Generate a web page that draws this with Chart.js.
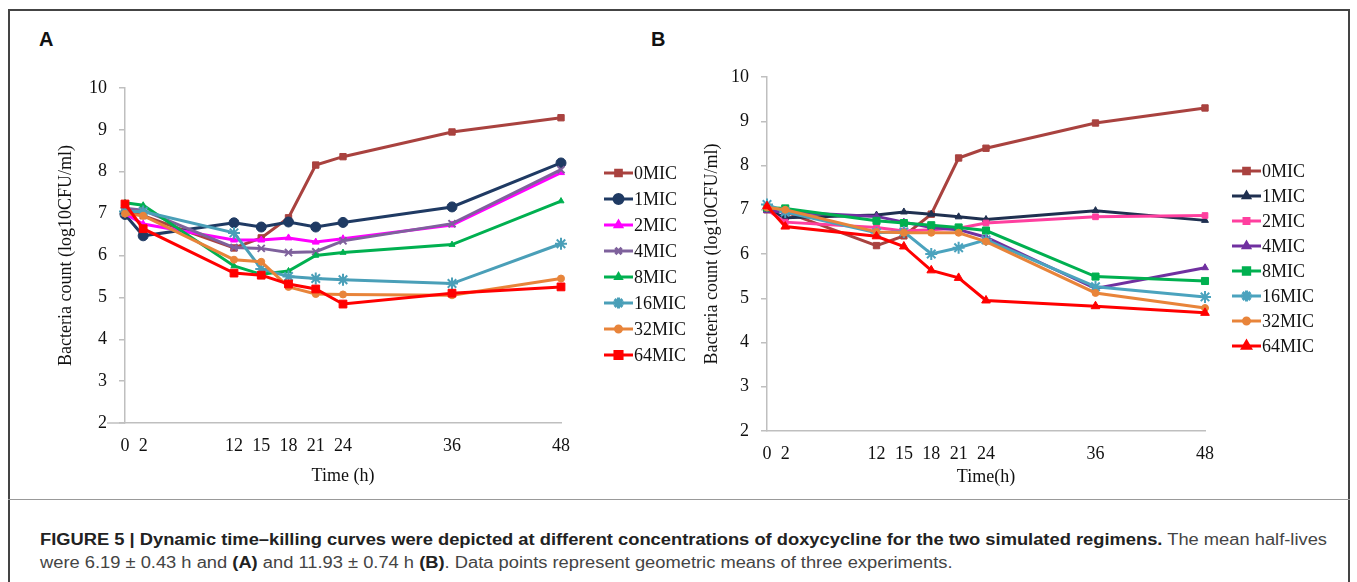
<!DOCTYPE html>
<html>
<head>
<meta charset="utf-8">
<script src="https://cdn.jsdelivr.net/npm/chart.js@4/dist/chart.umd.min.js"></script>
<style>
  html, body { margin: 0; padding: 0; background: #fff; }
  body { width: 1357px; height: 582px; position: relative; overflow: hidden; }
  .line { position: absolute; background: #444; }
  .panel-label { position: absolute; font-family: "Liberation Sans", Arial, sans-serif; font-weight: bold; font-size: 20px; color: #111; }
  #caption { position: absolute; left: 40px; top: 528px; font-family: "Liberation Sans Narrow", "Arial Narrow", "Liberation Sans", Arial, sans-serif; font-size: 16px; line-height: 23px; color: #444; white-space: nowrap; transform-origin: 0 0; }
  #caption b { color: #222; }
  canvas { position: absolute; }
</style>
</head>
<body>
<div class="line" style="left:8px; top:9px; width:1342px; height:1.5px;"></div>
<div class="line" style="left:8px; top:9px; width:1.5px; height:573px;"></div>
<div class="line" style="left:1348px; top:9px; width:1.5px; height:573px;"></div>
<div class="line" style="left:8px; top:499px; width:1342px; height:1px; background:#999;"></div>
<div class="panel-label" style="left:39px; top:28px;">A</div>
<div class="panel-label" style="left:651px; top:28px;">B</div>
<canvas id="chartA" width="700" height="500" style="left:0px; top:0px;"></canvas>
<canvas id="chartB" width="717" height="500" style="left:640px; top:0px;"></canvas>
<div id="caption"><span id="cap1"><b>FIGURE 5 | Dynamic time–killing curves were depicted at different concentrations of doxycycline for the two simulated regimens.</b> The mean half-lives</span><br><span>were 6.19 ± 0.43 h and <b>(A)</b> and 11.93 ± 0.74 h <b>(B)</b>. Data points represent geometric means of three experiments.</span></div>
<script>
// ---------- DATA ----------
const timePoints = [0, 2, 12, 15, 18, 21, 24, 36, 48];
const xTickLabels = [0, 2, 12, 15, 18, 21, 24, 36, 48];
const seriesNames = ["0MIC", "1MIC", "2MIC", "4MIC", "8MIC", "16MIC", "32MIC", "64MIC"];

// Panel A
const a0MIC  = [7.05, 6.95, 6.18, 6.42, 6.90, 8.16, 8.36, 8.95, 9.29];
const a1MIC  = [6.98, 6.47, 6.78, 6.68, 6.80, 6.68, 6.79, 7.16, 8.21];
const a2MIC  = [7.00, 6.75, 6.37, 6.37, 6.42, 6.32, 6.40, 6.73, 7.98];
const a4MIC  = [7.13, 7.08, 6.19, 6.17, 6.07, 6.09, 6.35, 6.76, 8.05];
const a8MIC  = [7.26, 7.20, 5.75, 5.55, 5.63, 6.00, 6.07, 6.26, 7.30];
const a16MIC = [7.05, 7.05, 6.54, 5.68, 5.50, 5.45, 5.42, 5.33, 6.28];
const a32MIC = [7.00, 6.95, 5.90, 5.85, 5.25, 5.08, 5.07, 5.05, 5.45];
const a64MIC = [7.23, 6.64, 5.58, 5.53, 5.32, 5.20, 4.84, 5.10, 5.25];

// Panel B
const b0MIC  = [7.00, 6.95, 6.19, 6.41, 6.90, 8.17, 8.39, 8.96, 9.30];
const b1MIC  = [7.00, 6.82, 6.88, 6.95, 6.90, 6.84, 6.78, 6.98, 6.76];
const b2MIC  = [7.00, 6.72, 6.60, 6.52, 6.55, 6.58, 6.70, 6.84, 6.87];
const b4MIC  = [6.98, 6.95, 6.85, 6.72, 6.60, 6.55, 6.38, 5.22, 5.69];
const b8MIC  = [7.05, 7.03, 6.75, 6.70, 6.65, 6.60, 6.53, 5.49, 5.39];
const b16MIC = [7.12, 6.95, 6.48, 6.50, 6.00, 6.14, 6.32, 5.26, 5.03];
const b32MIC = [7.05, 7.00, 6.50, 6.48, 6.48, 6.48, 6.28, 5.12, 4.78];
const b64MIC = [7.08, 6.62, 6.40, 6.17, 5.63, 5.46, 4.95, 4.82, 4.67];

const yTickValues = [2, 3, 4, 5, 6, 7, 8, 9, 10];
const yTitle = "Bacteria count (log10CFU/ml)";
const xTitleA = "Time (h)";
const xTitleB = "Time(h)";

// ---------- STYLES ----------
const stylesA = [
  {color: "#A9423F", pointStyle: "rect", radius: 4.5},
  {color: "#1F3A63", pointStyle: "circle", radius: 5},
  {color: "#FF00FF", pointStyle: "triangle", radius: 4},
  {color: "#7E619C", pointStyle: "crossRot", radius: 5},
  {color: "#00B050", pointStyle: "triangle", radius: 3.5},
  {color: "#4A9FB8", pointStyle: "star", radius: 6},
  {color: "#E8843A", pointStyle: "circle", radius: 3.5},
  {color: "#FF0000", pointStyle: "rect", radius: 5.5}
];
const stylesB = [
  {color: "#A9423F", pointStyle: "rect", radius: 4.5},
  {color: "#1F3050", pointStyle: "triangle", radius: 4},
  {color: "#FF3F9F", pointStyle: "rect", radius: 4},
  {color: "#7030A0", pointStyle: "triangle", radius: 4},
  {color: "#00B050", pointStyle: "rect", radius: 5},
  {color: "#4BA3BE", pointStyle: "star", radius: 6},
  {color: "#E8843A", pointStyle: "circle", radius: 3.5},
  {color: "#FF0000", pointStyle: "triangle", radius: 5}
];

function makeDatasets(valuesList, styles) {
  return valuesList.map((vals, i) => ({
    label: seriesNames[i],
    data: timePoints.map((t, j) => ({x: t, y: vals[j]})),
    borderColor: styles[i].color,
    backgroundColor: styles[i].color,
    pointBackgroundColor: styles[i].color,
    pointBorderColor: styles[i].color,
    pointStyle: styles[i].pointStyle,
    pointRadius: styles[i].radius,
    pointBorderWidth: styles[i].pointStyle === "star" || styles[i].pointStyle === "crossRot" ? 2 : 1,
    borderWidth: 3,
    tension: 0,
    clip: false,
    order: valuesList.length - i
  }));
}

function legendPlugin(cfg) {
  return {
    id: "customLegend",
    beforeDatasetsDraw(chart) {
      if (!cfg.axisExtend) return;
      const ctx = chart.ctx, a = chart.chartArea;
      ctx.save();
      ctx.strokeStyle = "#BFBFBF";
      ctx.lineWidth = 1.5;
      ctx.beginPath();
      ctx.moveTo(a.left - cfg.axisExtend, a.bottom);
      ctx.lineTo(a.left, a.bottom);
      ctx.stroke();
      ctx.restore();
    },
    afterDraw(chart) {
      const ctx = chart.ctx;
      ctx.save();
      chart.data.datasets.forEach((ds, i) => {
        const y = cfg.top + i * cfg.step;
        ctx.strokeStyle = ds.borderColor;
        ctx.fillStyle = ds.borderColor;
        ctx.lineWidth = 3;
        ctx.beginPath();
        ctx.moveTo(cfg.x0, y);
        ctx.lineTo(cfg.x1, y);
        ctx.stroke();
        Chart.helpers.drawPoint(ctx, {
          pointStyle: ds.pointStyle,
          radius: Math.max(ds.pointRadius - 0.5, 3),
          borderWidth: ds.pointBorderWidth,
          rotation: 0
        }, (cfg.x0 + cfg.x1) / 2, y);
        ctx.fillStyle = "#111";
        ctx.font = "18px 'Liberation Serif', 'Times New Roman', serif";
        ctx.textBaseline = "middle";
        ctx.textAlign = "left";
        ctx.fillText(ds.label, cfg.x1 + 1, y + 1);
      });
      ctx.restore();
    }
  };
}

function makeChart(id, datasets, opt) {
  const serif = "'Liberation Serif', 'Times New Roman', serif";
  return new Chart(document.getElementById(id), {
    type: "line",
    data: {datasets},
    options: {
      responsive: false,
      animation: false,
      devicePixelRatio: 1,
      events: [],
      layout: {padding: {left: 0, top: opt.top, right: opt.right, bottom: opt.bottomPad}},
      plugins: {legend: {display: false}, tooltip: {enabled: false}},
      scales: {
        x: {
          type: "linear",
          min: 0, max: 48,
          afterBuildTicks: (s) => { s.ticks = xTickLabels.map(v => ({value: v})); },
          afterFit: (s) => { s.height = opt.xHeight; s.paddingLeft = 0; s.paddingRight = 0; },
          grid: {display: false},
          border: {display: true, color: "#BFBFBF", width: 1.5},
          ticks: {autoSkip: false, maxRotation: 0, padding: 4, color: "#111",
                  font: {family: serif, size: 18}},
          title: {display: true, text: opt.xTitle, color: "#111",
                  font: {family: serif, size: 18}, padding: {top: 0, bottom: opt.xTitlePad}}
        },
        y: {
          min: 2, max: 10,
          afterBuildTicks: (s) => { s.ticks = yTickValues.map(v => ({value: v})); },
          afterFit: (s) => { s.width = opt.yWidth; s.paddingTop = 0; s.paddingBottom = 0; },
          grid: {drawOnChartArea: false, drawTicks: true, tickLength: 6, color: "#BFBFBF", lineWidth: 1.5},
          border: {display: true, color: "#BFBFBF", width: 1.5},
          ticks: {padding: 12, color: "#111", font: {family: serif, size: 18}},
          title: {display: true, text: yTitle, color: "#111",
                  font: {family: serif, size: 18}, padding: {top: opt.yTitlePad, bottom: 0}}
        }
      }
    },
    plugins: [legendPlugin(opt.legend)]
  });
}

makeChart("chartA",
  makeDatasets([a0MIC, a1MIC, a2MIC, a4MIC, a8MIC, a16MIC, a32MIC, a64MIC], stylesA),
  {top: 88, right: 139, bottomPad: 0, xHeight: 77, yWidth: 125, xTitle: xTitleA,
   xTitlePad: 13, yTitlePad: 55, legend: {x0: 604, x1: 633, top: 173, step: 26, axisExtend: 18}});

makeChart("chartB",
  makeDatasets([b0MIC, b1MIC, b2MIC, b4MIC, b8MIC, b16MIC, b32MIC, b64MIC], stylesB),
  {top: 77, right: 152, bottomPad: 0, xHeight: 69, yWidth: 127, xTitle: xTitleB,
   xTitlePad: 12, yTitlePad: 61, legend: {x0: 592, x1: 621, top: 171, step: 25}});

// fit caption first line to the reference width
const cap = document.getElementById("caption");
const w1 = document.getElementById("cap1").getBoundingClientRect().width;
cap.style.transform = "scaleX(" + (1287 / w1) + ")";
</script>
</body>
</html>
